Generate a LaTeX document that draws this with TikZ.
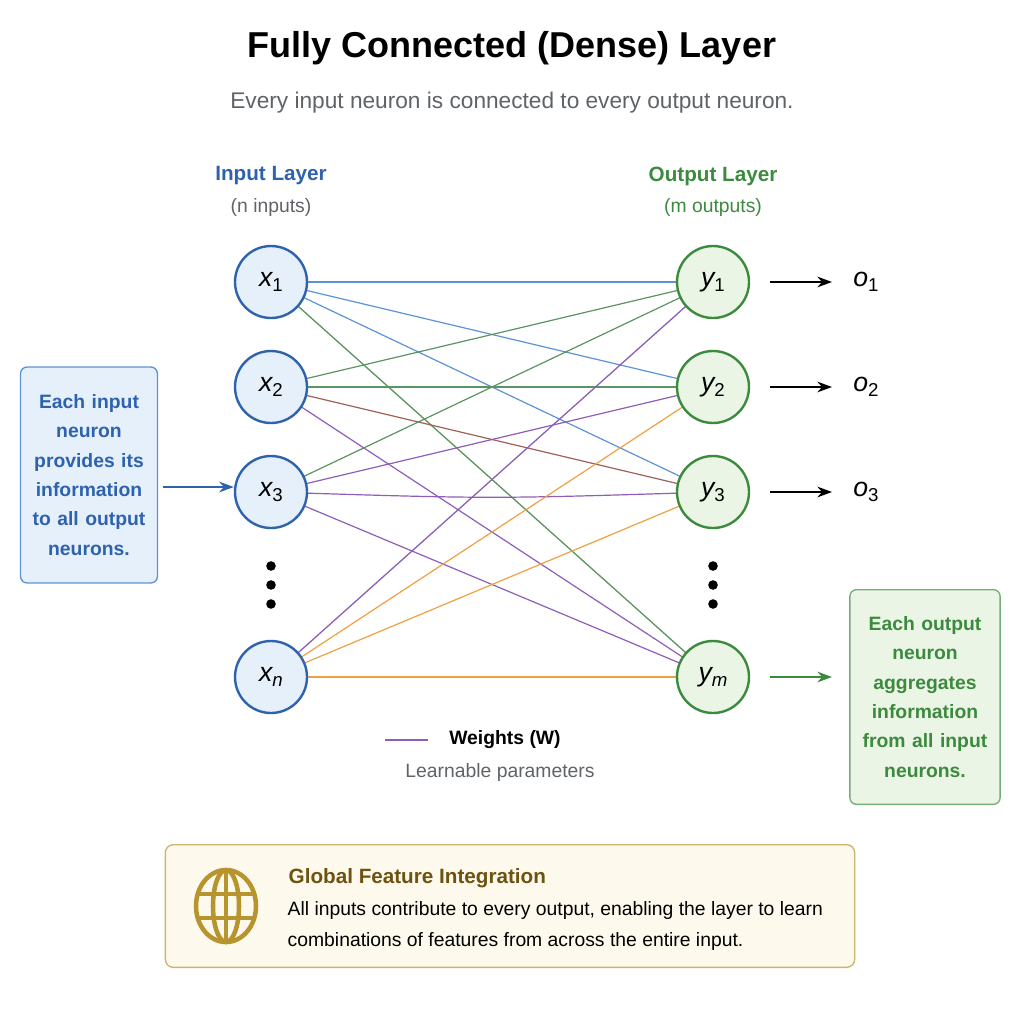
\documentclass[tikz,border=0pt]{standalone}
\usepackage{fontspec}
\setmainfont{Liberation Sans}
\usetikzlibrary{arrows.meta}
\definecolor{inblue}{HTML}{2F62AE}
\definecolor{inbluef}{HTML}{E6F0FB}
\definecolor{outgreen}{HTML}{3C8A3E}
\definecolor{outgreenf}{HTML}{EBF5E6}
\definecolor{eblue}{HTML}{5B93D6}
\definecolor{egreen}{HTML}{5A9460}
\definecolor{epurple}{HTML}{8E5DB8}
\definecolor{eorange}{HTML}{F0A043}
\definecolor{ered}{HTML}{A0605A}
\definecolor{elight}{HTML}{C8D4C6}
\definecolor{gold}{HTML}{B8942F}
\definecolor{goldtext}{HTML}{6E5210}
\definecolor{goldf}{HTML}{FDF9EC}
\definecolor{greytext}{HTML}{5F6368}
\newcommand{\vlab}[2]{{\itshape #1}\raisebox{-4pt}{\fontsize{14}{16}\selectfont\itshape #2}}
\newcommand{\vlabu}[2]{{\itshape #1}\raisebox{-4pt}{\fontsize{14}{16}\selectfont #2}}
\tikzset{
 inn/.style={circle,draw=inblue,fill=inbluef,line width=1.8pt,minimum size=54pt,font=\fontsize{20}{22}\selectfont},
 outn/.style={circle,draw=outgreen,fill=outgreenf,line width=1.8pt,minimum size=54pt,font=\fontsize{20}{22}\selectfont},
 edge/.style={line width=0.9pt},
 arr/.style={-{Stealth[length=11pt,width=8pt]},line width=1.5pt},
}
\begin{document}
\hyphenpenalty=10000
\begin{tikzpicture}[x=0.75pt,y=-0.75pt]
\useasboundingbox (0,0) rectangle (1024,1024);
\node[font=\bfseries\fontsize{27}{30}\selectfont] (title) at (512,48) {Fully Connected (Dense) Layer};
\node[font=\fontsize{17}{19}\selectfont,text=greytext] (sub) at (512,103) {Every input neuron is connected to every output neuron.};
\node[font=\bfseries\fontsize{15.5}{17}\selectfont,text=inblue] (il) at (271,176) {Input Layer};
\node[font=\fontsize{14.5}{17}\selectfont,text=greytext] (ils) at (271,208) {(n inputs)};
\node[font=\bfseries\fontsize{15.5}{17}\selectfont,text=outgreen] (ol) at (713,176) {Output Layer};
\node[font=\fontsize{14.5}{17}\selectfont,text=outgreen] (ols) at (713,208) {(m outputs)};
\coordinate (a1) at (271,282); \coordinate (a2) at (271,387); \coordinate (a3) at (271,492); \coordinate (an) at (271,677);
\coordinate (b1) at (713,282); \coordinate (b2) at (713,387); \coordinate (b3) at (713,492); \coordinate (bm) at (713,677);
\draw[edge,elight] (a1)--(bm); \draw[edge,elight] (an)--(b1);
\draw[edge,eblue] (a1)--(b1); \draw[edge,eblue] (a1)--(b2); \draw[edge,eblue] (a1)--(b3);
\draw[edge,egreen] (a1)--(bm);
\draw[edge,egreen] (a2)--(b1); \draw[edge,egreen] (a2)--(b2); \draw[edge,ered] (a2)--(b3); \draw[edge,epurple] (a2)--(bm);
\draw[edge,egreen] (a3)--(b1); \draw[edge,epurple] (a3)--(b2); \draw[edge,epurple] (a3) .. controls (492,499) .. (b3); \draw[edge,epurple] (a3)--(bm);
\draw[edge,epurple] (an)--(b1); \draw[edge,eorange] (an)--(b2); \draw[edge,eorange] (an)--(b3); \draw[edge,eorange] (an)--(bm);
\node[inn] (x1) at (a1) {\vlabu{x}{1}};
\node[inn] (x2) at (a2) {\vlabu{x}{2}};
\node[inn] (x3) at (a3) {\vlabu{x}{3}};
\node[inn] (xn) at (an) {\vlab{x}{n}};
\node[outn] (y1) at (b1) {\vlabu{y}{1}};
\node[outn] (y2) at (b2) {\vlabu{y}{2}};
\node[outn] (y3) at (b3) {\vlabu{y}{3}};
\node[outn] (ym) at (bm) {\vlab{y}{m}};
\foreach \yy in {566,585,604} {\fill (271,\yy) circle (3.6pt); \fill (713,\yy) circle (3.6pt);}
\foreach \i/\yy in {1/282,2/387,3/492} {
 \coordinate (s\i) at (770,\yy); \coordinate (e\i) at (832,\yy);
 \draw[arr] (s\i)--(e\i);
 \node[font=\fontsize{20}{22}\selectfont] (o\i) at (866,\yy) {\vlabu{o}{\i}};
}
\coordinate (sm) at (770,677); \coordinate (em) at (832,677);
\draw[arr,outgreen] (sm)--(em);
\node[draw=eblue,fill=inbluef,rounded corners=5pt,line width=1pt,minimum width=100pt,minimum height=162pt,text width=96pt,align=center,text=inblue,font=\bfseries\fontsize{14.5}{22}\selectfont] (lb) at (89,475) {Each input neuron provides its information to all output neurons.};
\coordinate (la) at (163,487);
\draw[arr,inblue] (la)--(x3.west|-la);
\node[draw=outgreen!70,fill=outgreenf,rounded corners=5pt,line width=1pt,minimum width=112pt,minimum height=161pt,text width=106pt,align=center,text=outgreen,font=\bfseries\fontsize{14.5}{22}\selectfont] (rb) at (925,697) {Each output neuron aggregates information from all input neurons.};
\coordinate (l1) at (385,740); \coordinate (l2) at (428,740);
\draw[epurple,line width=1.8pt] (l1)--(l2);
\node[font=\bfseries\fontsize{14.5}{17}\selectfont] (wl) at (505,740) {Weights (W)};
\node[font=\fontsize{14.5}{17}\selectfont,text=greytext] (lp) at (500,772) {Learnable parameters};
\node[draw=gold!70,fill=goldf,rounded corners=6pt,line width=1pt,minimum width=517pt,minimum height=92pt] (bb) at (510,906) {};
\begin{scope}[gold,line width=3.4pt]
\draw (226,906) ellipse (30 and 36);
\draw (226,906) ellipse (13 and 36);
\draw (226,870)--(226,942);
\draw (199,894)--(253,894); \draw (199,918)--(253,918);
\end{scope}
\node[anchor=west,font=\bfseries\fontsize{15.5}{18}\selectfont,text=goldtext] (gt) at (284,878) {Global Feature Integration};
\node[anchor=north west,align=left,font=\fontsize{14.5}{23}\selectfont] (gb) at (283,897) {All inputs contribute to every output, enabling the layer to learn\\combinations of features from across the entire input.};
\end{tikzpicture}
\end{document}
